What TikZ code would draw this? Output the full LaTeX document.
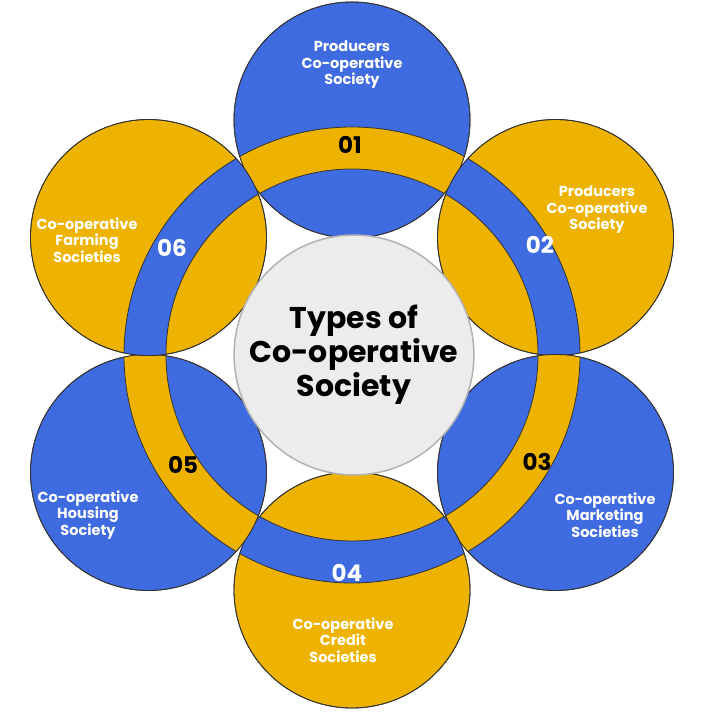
\documentclass[tikz,border=0pt]{standalone}
\usepackage{fontspec}
\setmainfont{Poppins}
\usetikzlibrary{positioning}
\definecolor{coopblue}{HTML}{3F6BE0}
\definecolor{coopyellow}{HTML}{EEB300}

\begin{document}
\begin{tikzpicture}[
x=1pt, y=1pt,
petal/.style={circle, minimum size=236pt, inner sep=0pt, draw=black!80, line width=0.8pt},
title/.style={align=center, font=\fontsize{30}{34}\selectfont\bfseries, text=black},
label/.style={align=center, font=\fontsize{14.5}{16.5}\selectfont\bfseries, text=white},
num/.style={font=\fontsize{23}{25}\selectfont\bfseries}]

\useasboundingbox (-352,-365) rectangle (368,355);

% petals with their part of the ring
\foreach \a/\fc/\bc [count=\i] in {90/coopblue/coopyellow, 30/coopyellow/coopblue,
  -30/coopblue/coopyellow, -90/coopyellow/coopblue, -150/coopblue/coopyellow,
  150/coopyellow/coopblue}{
  \node[petal, fill=\fc] (p\i) at (\a:235) {};
  \begin{scope}
    \clip (\a:235) circle (118);
    \fill[\bc, even odd rule] (0,0) circle (228) (0,0) circle (186);
    \draw[black!80, line width=0.8pt] (0,0) circle (228) (0,0) circle (186);
  \end{scope}
  \draw[black!80, line width=0.8pt] (\a:235) circle (118);
}

\node[circle, minimum size=216pt, fill=gray!15, draw=gray!60, line width=1.5pt,
  title] (hub) at (2,0) {Types of\\Co-operative\\Society};

\node[num, text=black] (n1) at (-2,210) {01};
\node[num, text=white] (n2) at (188,110) {02};
\node[num, text=black] (n3) at (185,-107) {03};
\node[num, text=white] (n4) at (-5,-218) {04};
\node[num, text=black] (n5) at (-169,-110) {05};
\node[num, text=white] (n6) at (-180,107) {06};

\node[label] (t1) at (0,290) {Producers\\Co-operative\\Society};
\node[label] (t2) at (245,145) {Producers\\Co-operative\\Society};
\node[label] (t3) at (253,-160) {Co-operative\\Marketing\\Societies};
\node[label] (t4) at (-9,-285) {Co-operative\\Credit\\Societies};
\node[label] (t5) at (-264,-160) {Co-operative\\Housing\\Society};
\node[label] (t6) at (-265,115) {Co-operative\\Farming\\Societies};
\end{tikzpicture}
\end{document}
